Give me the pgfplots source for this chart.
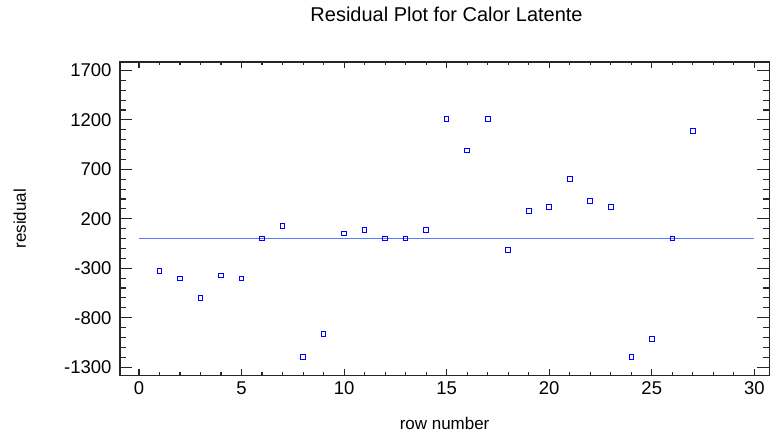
\documentclass[border=0pt]{standalone}
\usepackage{pgfplots}
\pgfplotsset{compat=1.18}
\usepackage{fontspec}
\setmainfont{Liberation Sans}
\definecolor{ptblue}{RGB}{0,0,255}
\definecolor{lineblue}{RGB}{90,120,255}
\begin{document}
\begin{tikzpicture}
\begin{axis}[
  scale only axis, width=650bp, height=313.7bp,
  at={(0,0)}, anchor=south west,
  xmin=-0.93, xmax=30.73, ymin=-1383, ymax=1786,
  xtick={0,5,...,30}, minor x tick num=4,
  ytick={-1300,-800,...,1700}, minor y tick num=4,
  tick align=inside,
  xtick pos=both, ytick pos=both,
  axis line style={draw=black!85, line width=1.4bp},
  every tick/.style={draw=black!85, line width=1.1bp},
  xtick style={/pgfplots/major tick length=6bp},
  minor x tick style={/pgfplots/minor tick length=3bp},
  ytick style={/pgfplots/major tick length=12.5bp},
  minor y tick style={/pgfplots/minor tick length=6.5bp},
  /pgf/number format/assume math mode=true,
  /pgf/number format/1000 sep={},
  ticklabel style={font=\fontsize{18.5bp}{22bp}\selectfont, text=black},
  yticklabel style={xshift=-5bp},
  xticklabel style={yshift=-3bp},
  xlabel={row number}, ylabel={residual},
  label style={font=\fontsize{17bp}{20bp}\selectfont},
  xlabel style={at={(axis description cs:0.5,-0.153)}, anchor=center},
  ylabel style={at={(axis description cs:-0.154,0.5)}, anchor=center},
  title={Residual Plot for Calor Latente},
  title style={font=\fontsize{20bp}{24bp}\selectfont, at={(axis description cs:0.503,1.134)}, anchor=center},
  clip=false,
]
\addplot[lineblue, line width=1.2bp] coordinates {(0,0) (30,0)};
\addplot[only marks, mark=square, mark size=2.3bp, mark options={draw=ptblue, line width=0.9bp}] coordinates {
(1,-328) (2,-403) (3,-598) (4,-373) (5,-403) (6,0) (7,126) (8,-1197) (9,-962)
(10,52) (11,86) (12,0) (13,0) (14,86) (15,1210) (16,890) (17,1210) (18,-113)
(19,281) (20,321) (21,601) (22,382) (23,321) (24,-1197) (25,-1012) (26,0) (27,1086)
};
\end{axis}
\useasboundingbox (-120bp,-57.3bp) rectangle (650bp,375.7bp);
\end{tikzpicture}
\end{document}
